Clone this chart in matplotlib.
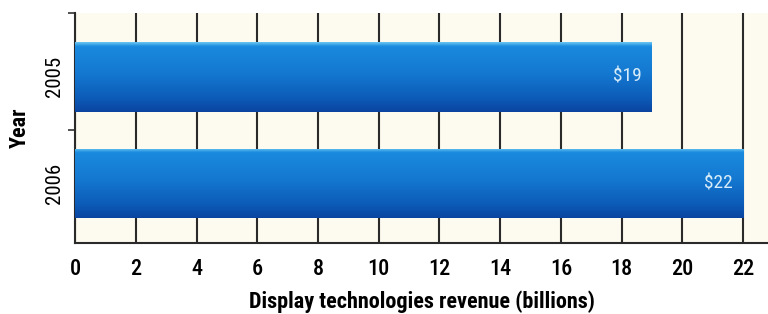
import numpy as np
import matplotlib
matplotlib.use("Agg")
from matplotlib import pyplot as plt

# data
years = ["2005", "2006"]
revenue = [19, 22]
labels = ["$19", "$22"]
xticks = list(range(0, 23, 2))

plt.rcParams['font.family'] = ['Roboto Condensed', 'DejaVu Sans']

fig = plt.figure(figsize=(7.68, 3.14), dpi=100)
ax = fig.add_axes([0.0977, 0.226, 0.9023, 0.7326])
ax.set_facecolor("#fdfbef")

ypos = np.arange(len(years))
bars = ax.barh(ypos, revenue, height=0.65, color="none", edgecolor="none", zorder=3)

# vertical gradient inside each bar (thin light edge, blue body, darker bottom)
grad = np.linspace(0, 1, 256).reshape(-1, 1)
cmap = matplotlib.colors.LinearSegmentedColormap.from_list(
    "bl", [(0, "#6cc8f4"), (0.06, "#1a8ade"), (0.45, "#1478d0"),
           (0.8, "#0c5cb8"), (1, "#0a44a0")])
for b in bars:
    x0, y0 = b.get_x(), b.get_y()
    w, h = b.get_width(), b.get_height()
    im = ax.imshow(grad, cmap=cmap, aspect="auto", extent=[x0, x0 + w, y0 + h, y0],
                   zorder=3, interpolation="bicubic")
    im.set_clip_path(b)

for i, (v, t) in enumerate(zip(revenue, labels)):
    ax.text(v - 0.35, i, t, ha="right", va="center", color="#d6ecf8",
            fontsize=14, zorder=4)

ax.set_xlim(0, 22.82)
ax.set_ylim(1.56, -0.6)
ax.set_xticks(xticks)
ax.set_xticklabels([str(x) for x in xticks], fontsize=16, fontweight="medium")
ax.set_yticks(ypos)
ax.set_yticklabels(years, rotation=90, va="center", fontsize=15)
ax.set_yticks([-0.6, 0.5], minor=True)
ax.tick_params(axis="y", which="major", length=0, pad=8)
ax.tick_params(axis="y", which="minor", length=5, width=1.2, color="#333333")
ax.tick_params(axis="x", length=0, pad=11)
ax.grid(axis="x", color="#2a2a2a", linewidth=1.5, zorder=1)
ax.set_axisbelow(True)

for s in ["top", "right"]:
    ax.spines[s].set_visible(False)
for s in ["left", "bottom"]:
    ax.spines[s].set_linewidth(1.5)
    ax.spines[s].set_color("#2a2a2a")

ax.set_xlabel("Display technologies revenue (billions)", fontsize=16,
              fontweight="bold", labelpad=7)
ax.set_ylabel("Year", fontsize=16, fontweight="bold", labelpad=10)

fig.savefig("out.png", dpi=100)
